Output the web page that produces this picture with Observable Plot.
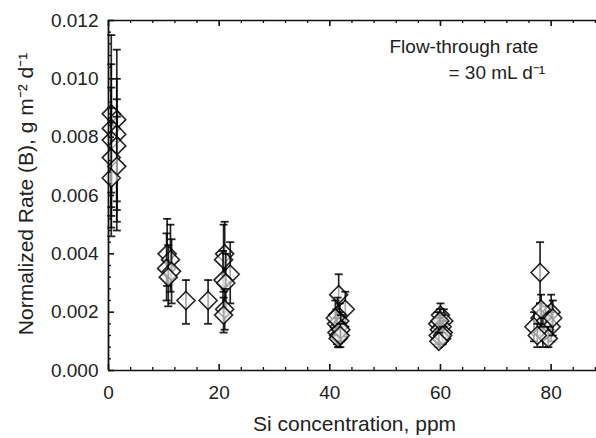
<!DOCTYPE html>
<html>
<head>
<meta charset="utf-8">
<script src="https://cdn.jsdelivr.net/npm/d3@7"></script>
<script src="https://cdn.jsdelivr.net/npm/@observablehq/plot@0.6"></script>
<style>
  html, body { margin: 0; padding: 0; background: #fff; }
</style>
</head>
<body>
<div id="chart"></div>
<script>
// Si concentration (ppm)
const siPpm = [
  0.5, 1.5, 0.5, 1.5, 0.5, 1.5, 0.5, 1.5, 0.5,
  10.6, 11.2, 10.5, 11.4, 10.8,
  14.0, 18.0,
  21.0, 20.8, 22.0, 20.7, 21.2, 21.0, 20.8,
  41.6, 42.8, 41.4, 41.8, 41.2, 41.7, 41.3, 41.6, 41.5, 41.0, 42.0, 41.9,
  60.0, 60.6, 59.5, 60.3, 59.8, 60.5, 59.6, 60.2, 59.9, 60.4, 59.7,
  78.0, 80.0, 78.0, 76.9, 79.0, 80.0, 78.5, 79.5, 78.2, 77.5, 80.3
];
// Normalized rate (B), g m-2 d-1
const rateB = [
  0.0088, 0.0086, 0.0083, 0.0081, 0.0079, 0.0077, 0.0073, 0.0070, 0.0066,
  0.0040, 0.0038, 0.0035, 0.0034, 0.0032,
  0.0024, 0.0024,
  0.0040, 0.0038, 0.0033, 0.0031, 0.0030, 0.0021, 0.0019,
  0.0026, 0.0021, 0.0019, 0.0017, 0.0016, 0.0015, 0.0013, 0.0012, 0.0011, 0.0018, 0.0014, 0.0012,
  0.0019, 0.0017, 0.0016, 0.0015, 0.0014, 0.0013, 0.0012, 0.0011, 0.0017, 0.0012, 0.0010,
  0.00336, 0.0020, 0.0018, 0.0015, 0.0017, 0.0015, 0.0013, 0.0011, 0.0021, 0.0012, 0.0018
];
const rateLow = [
  0.0061, 0.0058, 0.0056, 0.0055, 0.0053, 0.0051, 0.0049, 0.0048, 0.0046,
  0.0029, 0.0027, 0.0024, 0.0023, 0.0022,
  0.0016, 0.0016,
  0.0029, 0.0027, 0.0023, 0.0021, 0.0020, 0.0014, 0.0013,
  0.0019, 0.0015, 0.0013, 0.0011, 0.0011, 0.0010, 0.0009, 0.0008, 0.0008, 0.0012, 0.0010, 0.0008,
  0.0015, 0.0013, 0.0012, 0.0011, 0.0011, 0.0010, 0.0009, 0.0009, 0.0013, 0.0009, 0.0008,
  0.0023, 0.0014, 0.0012, 0.0010, 0.0011, 0.0010, 0.0008, 0.0008, 0.0015, 0.0008, 0.0012
];
const rateHigh = [
  0.0115, 0.0110, 0.0105, 0.0100, 0.0097, 0.0093, 0.0090, 0.0087, 0.0085,
  0.0052, 0.0050, 0.0047, 0.0045, 0.0043,
  0.0031, 0.0031,
  0.0051, 0.0050, 0.0044, 0.0041, 0.0040, 0.0028, 0.0025,
  0.0033, 0.0027, 0.0025, 0.0023, 0.0021, 0.0020, 0.0018, 0.0016, 0.0015, 0.0024, 0.0019, 0.0016,
  0.0023, 0.0021, 0.0020, 0.0019, 0.0018, 0.0017, 0.0016, 0.0014, 0.0021, 0.0015, 0.0013,
  0.0044, 0.0026, 0.0023, 0.0020, 0.0022, 0.0020, 0.0018, 0.0015, 0.0026, 0.0016, 0.0024
];

const xMajorTicks = [0, 20, 40, 60, 80];
const xMinorTicks = [4, 8, 12, 16, 24, 28, 32, 36, 44, 48, 52, 56, 64, 68, 72, 76, 84, 88];
const yMajorTicks = [0, 0.002, 0.004, 0.006, 0.008, 0.010, 0.012];
const yMinorTicks = [0.0004, 0.0008, 0.0012, 0.0016, 0.0024, 0.0028, 0.0032, 0.0036,
  0.0044, 0.0048, 0.0052, 0.0056, 0.0064, 0.0068, 0.0072, 0.0076,
  0.0084, 0.0088, 0.0092, 0.0096, 0.0104, 0.0108, 0.0112, 0.0116];

const xTitle = "Si concentration, ppm";
const yTitle = "Normalized Rate (B), g m\u207B\u00B2 d\u207B\u00B9";
const noteLine1 = "Flow-through rate";
const noteLine2 = "= 30 mL d\u207B\u00B9";

const points = siPpm.map((x, i) => ({x, y: rateB[i], lo: rateLow[i], hi: rateHigh[i]}));

const W = 596, H = 438;
const mL = 108, mR = 0, mT = 20, mB = 68;
const plotW = W - mL - mR, plotH = H - mT - mB;

const capSymbol = {
  draw(context, size) {
    const w = Math.sqrt(size / Math.PI);
    context.moveTo(-w, 0);
    context.lineTo(w, 0);
  }
};
const diamondSymbol = {
  draw(context, size) {
    const h = Math.sqrt(size / Math.PI);
    context.moveTo(0, -h);
    context.lineTo(h, 0);
    context.lineTo(0, h);
    context.lineTo(-h, 0);
    context.closePath();
  }
};

const ink = "#000";
const op = 0.85;

const pointMarks = points.flatMap(p => [
  Plot.ruleX([p], {x: "x", y1: "lo", y2: "hi", stroke: ink, strokeOpacity: op, strokeWidth: 1.7}),
  Plot.dot([p], {x: "x", y: "hi", symbol: capSymbol, r: 4, stroke: ink, strokeOpacity: op, strokeWidth: 1.8}),
  Plot.dot([p], {x: "x", y: "lo", symbol: capSymbol, r: 4, stroke: ink, strokeOpacity: op, strokeWidth: 1.8}),
  Plot.dot([p], {x: "x", y: "y", symbol: diamondSymbol, r: 9, stroke: ink, strokeOpacity: op, strokeWidth: 1.6, fill: "white", fillOpacity: 0.6})
]);

const chart = Plot.plot({
  width: W, height: H,
  marginLeft: mL, marginRight: mR, marginTop: mT, marginBottom: mB,
  x: {domain: [0, 88.2]},
  y: {domain: [0, 0.012]},
  style: {fontFamily: "'Liberation Sans', Arial, sans-serif", fontSize: "19px", color: "#222", background: "white"},
  marks: [
    ...pointMarks,
    // frame lines
    Plot.ruleY([0, 0.012], {stroke: "#111", strokeWidth: 1.6}),
    Plot.ruleX([0], {stroke: "#111", strokeWidth: 1.8}),
    // inward ticks bottom
    Plot.tickX(xMajorTicks, {x: d => d, insetTop: plotH - 6, stroke: "#111", strokeWidth: 1.6}),
    Plot.tickX(xMinorTicks, {x: d => d, insetTop: plotH - 3, stroke: "#111", strokeWidth: 1.3}),
    // inward ticks top
    Plot.tickX(xMajorTicks, {x: d => d, insetBottom: plotH - 6, stroke: "#111", strokeWidth: 1.6}),
    Plot.tickX(xMinorTicks, {x: d => d, insetBottom: plotH - 3, stroke: "#111", strokeWidth: 1.3}),
    // inward ticks left
    Plot.tickY(yMajorTicks, {y: d => d, insetRight: plotW - 6, stroke: "#111", strokeWidth: 1.6}),
    Plot.tickY(yMinorTicks, {y: d => d, insetRight: plotW - 3, stroke: "#111", strokeWidth: 1.3}),
    // tick labels
    Plot.axisX({ticks: xMajorTicks, tickSize: 0, tickPadding: 15, tickFormat: d => String(d), label: null, fontSize: 19}),
    Plot.axisY({ticks: yMajorTicks, tickSize: 0, tickPadding: 10, tickFormat: d3.format(".3f"), label: null, fontSize: 19}),
    // axis titles
    Plot.text([xTitle], {text: d => d, frameAnchor: "bottom", lineAnchor: "middle", textAnchor: "middle", dy: 54, dx: 2, fontSize: 21, fill: "#222"}),
    Plot.text([yTitle], {text: d => d, frameAnchor: "left", lineAnchor: "middle", textAnchor: "middle", rotate: -90, dx: -82, dy: -1.5, fontSize: 21, fill: "#222"}),
    // annotation
    Plot.text([noteLine1], {text: d => d, frameAnchor: "top-left", lineAnchor: "middle", textAnchor: "start", dx: 281, dy: 26.5, fontSize: 19, fill: "#222"}),
    Plot.text([noteLine2], {text: d => d, frameAnchor: "top-left", lineAnchor: "middle", textAnchor: "start", dx: 340, dy: 52, fontSize: 19, fill: "#222"})
  ]
});
document.getElementById("chart").appendChild(chart);
</script>
</body>
</html>
